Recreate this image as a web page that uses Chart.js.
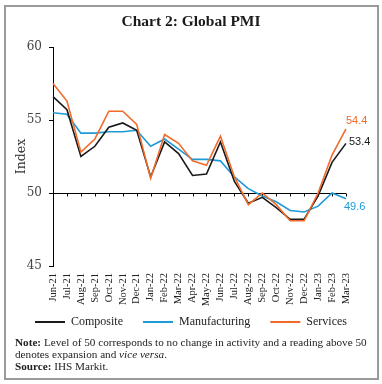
<!DOCTYPE html>
<html><head><meta charset="utf-8">
<script src="https://cdn.jsdelivr.net/npm/chart.js@4"></script>
<style>
html,body{margin:0;padding:0;background:#fff;}
#frame{position:absolute;left:4px;top:5px;width:375px;height:375px;box-sizing:border-box;border:2px solid #9a9a9a;}
#c{position:absolute;left:0;top:0;}
#note{position:absolute;left:15px;top:335.5px;font:11.2px "Liberation Serif",serif;line-height:12.3px;color:#222;white-space:nowrap;}
</style></head><body>
<div id="frame"></div>
<canvas id="c" width="382" height="354"></canvas>
<div id="note"><b>Note:</b> Level of 50 corresponds to no change in activity and a reading above 50<br>denotes expansion and <i>vice versa</i>.<br><b>Source:</b> IHS Markit.</div>
<script>
const months = ['Jun-21','Jul-21','Aug-21','Sep-21','Oct-21','Nov-21','Dec-21','Jan-22','Feb-22','Mar-22','Apr-22','May-22','Jun-22','Jul-22','Aug-22','Sep-22','Oct-22','Nov-22','Dec-22','Jan-23','Feb-23','Mar-23'];
const composite = [56.6,55.7,52.5,53.2,54.5,54.8,54.3,51.1,53.5,52.7,51.2,51.3,53.5,50.8,49.3,49.7,49.0,48.2,48.2,49.8,52.1,53.4];
const manufacturing = [55.5,55.4,54.1,54.1,54.2,54.2,54.3,53.2,53.7,53.0,52.3,52.3,52.2,51.1,50.3,49.8,49.4,48.8,48.7,49.1,50.0,49.6];
const services = [57.5,56.3,52.8,53.7,55.6,55.6,54.7,51.0,54.0,53.4,52.2,51.9,53.9,51.1,49.2,50.0,49.2,48.1,48.1,50.0,52.6,54.4];
const yTicks = [45,50,55,60];

const BLACK = '#1a1a1a', BLUE = '#1e9ad6', ORANGE = '#f26b2a';

const line50 = {
  id: 'line50',
  beforeDatasetsDraw(chart) {
    const {ctx, chartArea, scales: {x, y}} = chart;
    const yy = Math.round(y.getPixelForValue(50)) + 0.5;
    ctx.save();
    ctx.strokeStyle = '#000';
    ctx.lineWidth = 1;
    ctx.beginPath();
    ctx.moveTo(chartArea.left, yy);
    ctx.lineTo(chartArea.right, yy);
    for (let i = 1; i < months.length; i++) {
      const xx = Math.round(x.getPixelForValue(i)) + 0.5;
      ctx.moveTo(xx, yy);
      ctx.lineTo(xx, yy + 3);
    }
    ctx.stroke();
    ctx.restore();
  }
};

const legendShift = {
  id: 'legendShift',
  afterLayout(chart) {
    if (chart.legend) { chart.legend.top -= 16; chart.legend.bottom -= 16; }
  }
};

const endLabels = {
  id: 'endLabels',
  afterDatasetsDraw(chart) {
    const ctx = chart.ctx;
    const specs = [
      {ds: 2, dx: 0, dy: -8},
      {ds: 0, dx: 3, dy: -1},
      {ds: 1, dx: -2, dy: 8}
    ];
    ctx.save();
    ctx.font = '11px "Liberation Sans", sans-serif';
    ctx.textAlign = 'left';
    ctx.textBaseline = 'middle';
    specs.forEach(s => {
      const meta = chart.getDatasetMeta(s.ds);
      const data = chart.data.datasets[s.ds].data;
      const pt = meta.data[data.length - 1];
      ctx.fillStyle = chart.data.datasets[s.ds].borderColor;
      ctx.fillText(data[data.length - 1].toFixed(1), pt.x + s.dx, pt.y + s.dy);
    });
    ctx.restore();
  }
};

new Chart(document.getElementById('c'), {
  type: 'line',
  data: {
    labels: months,
    datasets: [
      {label: 'Composite', data: composite, borderColor: BLACK, backgroundColor: BLACK, order: 1},
      {label: 'Manufacturing', data: manufacturing, borderColor: BLUE, backgroundColor: BLUE, order: 2},
      {label: 'Services', data: services, borderColor: ORANGE, backgroundColor: ORANGE, order: 0}
    ]
  },
  options: {
    responsive: false,
    animation: false,
    devicePixelRatio: 1,
    layout: {padding: 0},
    elements: {
      line: {borderWidth: 1.6, tension: 0, fill: false},
      point: {radius: 0, hoverRadius: 0}
    },
    plugins: {
      title: {
        display: true,
        text: 'Chart 2: Global PMI',
        color: '#1a1a1a',
        font: {family: 'Liberation Serif', size: 15.5, weight: 'bold'},
        padding: {top: 13, bottom: 15.4}
      },
      legend: {
        position: 'bottom',
        labels: {
          boxWidth: 30, boxHeight: 2, padding: 20, color: '#222',
          font: {family: 'Liberation Serif', size: 12},
          generateLabels(chart) {
            const items = Chart.defaults.plugins.legend.labels.generateLabels(chart);
            items.sort((a, b) => a.datasetIndex - b.datasetIndex);
            items.forEach(it => { it.lineWidth = 0; it.fillStyle = it.strokeStyle; });
            return items;
          }
        }
      },
      tooltip: {enabled: false}
    },
    scales: {
      x: {
        offset: false,
        ticks: {autoSkip: false, maxRotation: 90, minRotation: 90, padding: 7, color: '#222',
          font: {family: 'Liberation Serif', size: 10.5}},
        grid: {display: false, drawTicks: false},
        border: {display: false},
        afterFit(s) { s.height = 46; }
      },
      y: {
        min: 45, max: 60,
        afterBuildTicks(s) { s.ticks = yTicks.map(v => ({value: v})); },
        ticks: {padding: 7, color: '#444', font: {family: 'DejaVu Serif', size: 12}},
        grid: {drawOnChartArea: false, tickLength: 4, color: '#000'},
        border: {color: '#000', width: 1},
        title: {display: true, text: 'Index', color: '#333',
          font: {family: 'DejaVu Serif', size: 12.5}, padding: {top: 14.5, bottom: 0}},
        afterFit(s) { s.width = 53; }
      },
      yR: {
        position: 'right',
        min: 45, max: 60,
        ticks: {display: false},
        grid: {display: false, drawTicks: false},
        border: {display: false},
        afterFit(s) { s.width = 36; }
      }
    }
  },
  plugins: [line50, legendShift, endLabels]
});
</script>
</body></html>
